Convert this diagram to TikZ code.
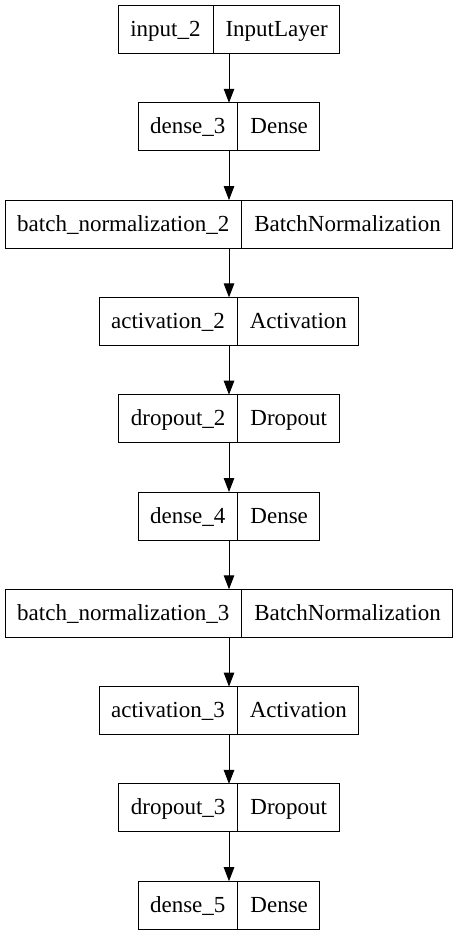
\documentclass[tikz,border=0pt]{standalone}
\usepackage{fontspec}
\setmainfont{Liberation Serif}
\usetikzlibrary{arrows.meta,positioning,shapes.multipart}
\newcommand{\lstrut}{\rule[-9pt]{0pt}{32pt}}

\begin{document}
\begin{tikzpicture}[
  x=1pt, y=1pt,
  font=\fontsize{23}{27}\selectfont,
  node distance=49.3pt,
  layer/.style={draw, line width=1pt, outer sep=0pt, rectangle split, rectangle split horizontal,
    rectangle split parts=2, inner xsep=12pt, inner ysep=8pt},
  arr/.style={-{Triangle[length=14pt,width=10.5pt]}, line width=1pt}
]
\useasboundingbox (0,0) rectangle (459,-936);
\node[layer, anchor=north] (in2) at (229,-5.5) {\lstrut input\_2\nodepart{two}\lstrut InputLayer};
\node[layer, below=of in2] (d3) {\lstrut dense\_3\nodepart{two}\lstrut Dense};
\node[layer, below=of d3] (bn2) {\lstrut batch\_normalization\_2\nodepart{two}\lstrut BatchNormalization};
\node[layer, below=of bn2] (act2) {\lstrut activation\_2\nodepart{two}\lstrut Activation};
\node[layer, below=of act2] (do2) {\lstrut dropout\_2\nodepart{two}\lstrut Dropout};
\node[layer, below=of do2] (d4) {\lstrut dense\_4\nodepart{two}\lstrut Dense};
\node[layer, below=of d4] (bn3) {\lstrut batch\_normalization\_3\nodepart{two}\lstrut BatchNormalization};
\node[layer, below=of bn3] (act3) {\lstrut activation\_3\nodepart{two}\lstrut Activation};
\node[layer, below=of act3] (do3) {\lstrut dropout\_3\nodepart{two}\lstrut Dropout};
\node[layer, below=of do3] (d5) {\lstrut dense\_5\nodepart{two}\lstrut Dense};
\draw[arr] (in2) -- (d3);
\draw[arr] (d3) -- (bn2);
\draw[arr] (bn2) -- (act2);
\draw[arr] (act2) -- (do2);
\draw[arr] (do2) -- (d4);
\draw[arr] (d4) -- (bn3);
\draw[arr] (bn3) -- (act3);
\draw[arr] (act3) -- (do3);
\draw[arr] (do3) -- (d5);
\end{tikzpicture}
\end{document}
